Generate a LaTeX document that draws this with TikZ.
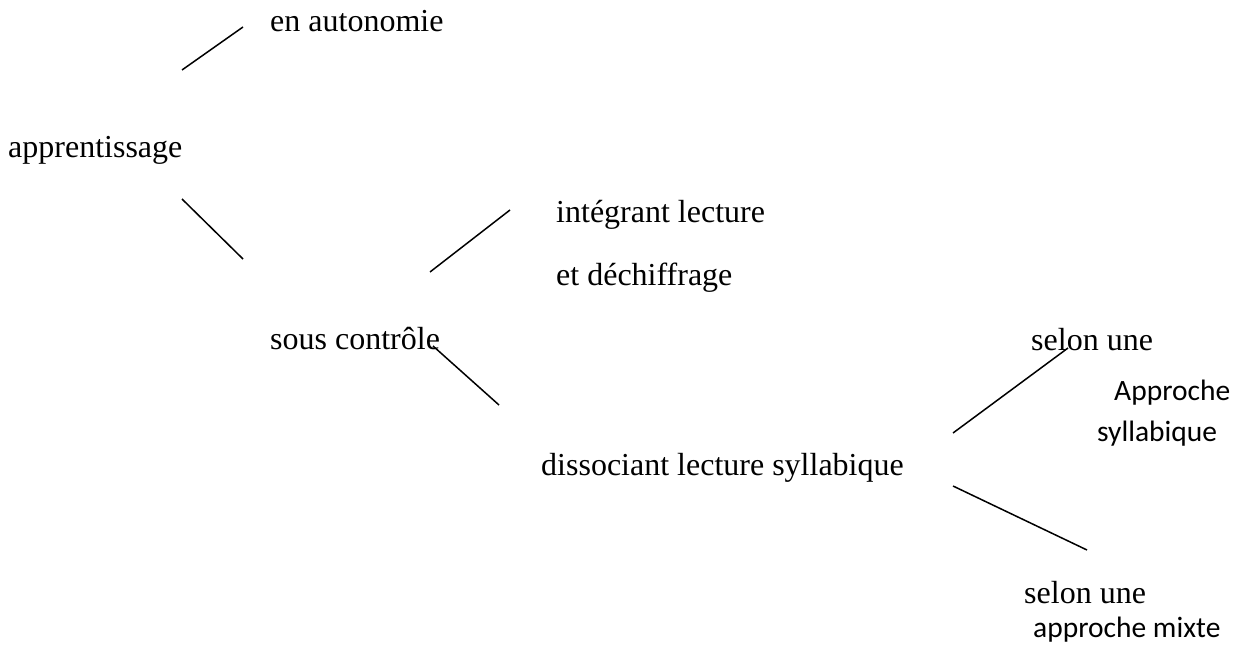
\documentclass[tikz,border=0pt]{standalone}
\usepackage{fontspec}
\setmainfont{Liberation Serif}
\newfontfamily\calib{Carlito}
\usetikzlibrary{positioning}

\tikzset{
  lbl/.style={anchor=base west, inner sep=0pt, font=\fontsize{32}{38}\selectfont},
  lblsans/.style={lbl, font=\calib\fontsize{29.5}{36}\selectfont},
  branch/.style={line width=1.5pt, black}
}

\begin{document}
\begin{tikzpicture}[x=1pt,y=-1pt]
      \useasboundingbox (0,0) rectangle (1238,647);
        \node[lbl] (auto) at (270,32) {en autonomie};
        \node[lbl] (appr) at (8,158) {apprentissage};
        \node[lbl] (integ) at (556,222) {int\'egrant lecture};
        \node[lbl] (dechif) at (556,285) {et d\'echiffrage};
        \node[lbl] (sous) at (270,349) {sous contr\^ole};
        \node[lbl] (diss) at (541,475) {dissociant lecture syllabique};
        \node[lbl] (selon1) at (1031,350) {selon une};
        \node[lblsans] (approche1) at (1114,400) {Approche};
        \node[lblsans] (sylla) at (1097,441) {syllabique};
        \node[lbl] (selon2) at (1024,603) {selon une};
        \node[lblsans] (mixte) at (1033,637) {approche mixte};
        % ends of the branches
        \coordinate (a1) at (182,70);
        \coordinate (a2) at (243,27);
        \coordinate (b1) at (182,199);
        \coordinate (b2) at (243,259);
        \coordinate (c1) at (430,272);
        \coordinate (c2) at (510,210);
        \coordinate (d1) at (433,346);
        \coordinate (d2) at (499,405);
        \coordinate (e1) at (953,433);
        \coordinate (e2) at (1068,348);
        \coordinate (f1) at (953,486);
        \coordinate (f2) at (1087,550);
        \draw[branch] (a1) -- (a2);
        \draw[branch] (b1) -- (b2);
        \draw[branch] (c1) -- (c2);
        \draw[branch] (d1) -- (d2);
        \draw[branch] (e1) -- (e2);
        \draw[branch] (f1) -- (f2);
    \end{tikzpicture}
\end{document}
